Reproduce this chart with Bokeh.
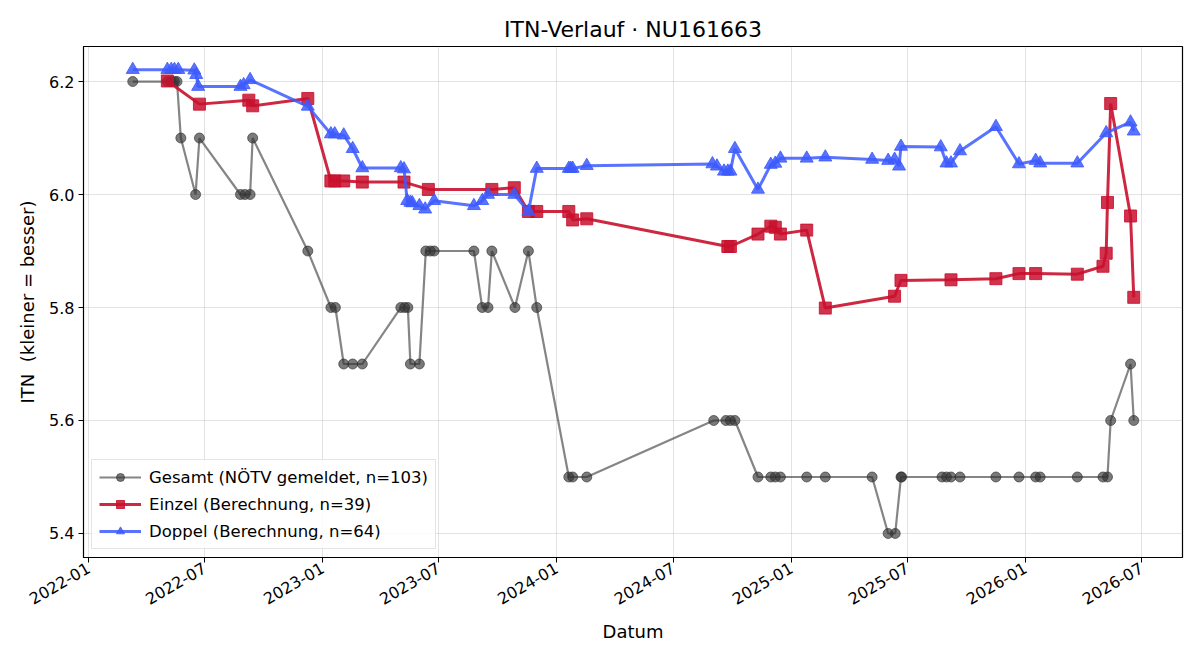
import math
import pandas as pd
from bokeh.plotting import figure
from bokeh.models import (ColumnDataSource, Range1d, FixedTicker, DatetimeTickFormatter,
                          Legend, PrintfTickFormatter)
from bokeh.embed import file_html
from bokeh.resources import INLINE

# ---------------- data ----------------
gesamt_dates = [
    "2022-03-11", "2022-05-04", "2022-05-10", "2022-05-15", "2022-05-19", "2022-05-25",
    "2022-06-17", "2022-06-23", "2022-08-26", "2022-09-02", "2022-09-10", "2022-09-14",
    "2022-12-09", "2023-01-14", "2023-01-21", "2023-02-03", "2023-02-17", "2023-03-04",
    "2023-05-03", "2023-05-09", "2023-05-14", "2023-05-18", "2023-06-01", "2023-06-11",
    "2023-06-18", "2023-06-24", "2023-08-25", "2023-09-07", "2023-09-16", "2023-09-22",
    "2023-10-28", "2023-11-18", "2023-12-01", "2024-01-20", "2024-01-26", "2024-02-17",
    "2024-09-02", "2024-09-21", "2024-09-28", "2024-10-05", "2024-11-10", "2024-11-30",
    "2024-12-07", "2024-12-15", "2025-01-25", "2025-02-23", "2025-05-07", "2025-06-01",
    "2025-06-12", "2025-06-21", "2025-06-22", "2025-08-24", "2025-08-31", "2025-09-07",
    "2025-09-21", "2025-11-16", "2025-12-22", "2026-01-17", "2026-01-24", "2026-03-23",
    "2026-05-02", "2026-05-09", "2026-05-14", "2026-06-14", "2026-06-19",
]
gesamt_itn = [
    6.2, 6.2, 6.2, 6.2, 6.2, 6.1,
    6.0, 6.1, 6.0, 6.0, 6.0, 6.1,
    5.9, 5.8, 5.8, 5.7, 5.7, 5.7,
    5.8, 5.8, 5.8, 5.7, 5.7, 5.9,
    5.9, 5.9, 5.9, 5.8, 5.8, 5.9,
    5.8, 5.9, 5.8, 5.5, 5.5, 5.5,
    5.6, 5.6, 5.6, 5.6, 5.5, 5.5,
    5.5, 5.5, 5.5, 5.5, 5.5, 5.4,
    5.4, 5.5, 5.5, 5.5, 5.5, 5.5,
    5.5, 5.5, 5.5, 5.5, 5.5, 5.5,
    5.5, 5.5, 5.6, 5.7, 5.6,
]

einzel_dates = [
    "2022-05-04", "2022-06-23", "2022-09-08", "2022-09-14", "2022-12-09", "2023-01-14",
    "2023-01-20", "2023-02-03", "2023-03-04", "2023-05-08", "2023-06-15", "2023-09-22",
    "2023-10-27", "2023-11-18", "2023-12-01", "2024-01-20", "2024-01-26", "2024-02-17",
    "2024-09-24", "2024-09-28", "2024-11-10", "2024-11-30", "2024-12-07", "2024-12-15",
    "2025-01-25", "2025-02-23", "2025-06-11", "2025-06-21", "2025-09-07", "2025-11-16",
    "2025-12-22", "2026-01-17", "2026-03-23", "2026-05-02", "2026-05-07", "2026-05-09",
    "2026-05-14", "2026-06-14", "2026-06-19",
]
einzel_itn = [
    6.201, 6.160, 6.167, 6.157, 6.170, 6.024,
    6.024, 6.024, 6.022, 6.022, 6.009, 6.009,
    6.012, 5.970, 5.970, 5.970, 5.955, 5.957,
    5.908, 5.908, 5.930, 5.944, 5.942, 5.930,
    5.937, 5.799, 5.820, 5.848, 5.849, 5.851,
    5.860, 5.860, 5.859, 5.873, 5.896, 5.986,
    6.161, 5.962, 5.818,
]

doppel_dates = [
    "2022-03-11", "2022-05-04", "2022-05-10", "2022-05-15", "2022-05-21", "2022-06-15",
    "2022-06-18", "2022-06-21", "2022-08-26", "2022-08-31", "2022-09-10", "2022-12-09",
    "2023-01-14", "2023-01-20", "2023-02-03", "2023-02-17", "2023-03-04", "2023-05-03",
    "2023-05-08", "2023-05-13", "2023-05-18", "2023-05-21", "2023-06-01", "2023-06-10",
    "2023-06-24", "2023-08-25", "2023-09-07", "2023-09-16", "2023-10-27", "2023-11-18",
    "2023-12-01", "2024-01-20", "2024-01-23", "2024-01-26", "2024-02-17", "2024-08-31",
    "2024-09-07", "2024-09-18", "2024-09-24", "2024-09-28", "2024-10-05", "2024-11-10",
    "2024-11-30", "2024-12-07", "2024-12-15", "2025-01-25", "2025-02-23", "2025-05-07",
    "2025-06-01", "2025-06-11", "2025-06-18", "2025-06-21", "2025-08-22", "2025-08-31",
    "2025-09-07", "2025-09-21", "2025-11-16", "2025-12-22", "2026-01-17", "2026-01-24",
    "2026-03-23", "2026-05-07", "2026-06-14", "2026-06-19",
]
doppel_itn = [
    6.221, 6.221, 6.221, 6.221, 6.221, 6.220,
    6.212, 6.191, 6.191, 6.194, 6.203, 6.156,
    6.107, 6.107, 6.105, 6.081, 6.047, 6.047,
    6.045, 5.989, 5.986, 5.985, 5.980, 5.974,
    5.989, 5.980, 5.989, 6.000, 6.000, 5.970,
    6.046, 6.046, 6.046, 6.046, 6.051, 6.054,
    6.050, 6.041, 6.041, 6.041, 6.081, 6.009,
    6.053, 6.055, 6.064, 6.064, 6.066, 6.062,
    6.060, 6.062, 6.050, 6.085, 6.084, 6.0555,
    6.0555, 6.077, 6.120, 6.054, 6.060, 6.0555,
    6.0555, 6.109, 6.128, 6.112,
]

x_tick_labels = ["2022-01", "2022-07", "2023-01", "2023-07", "2024-01",
                 "2024-07", "2025-01", "2025-07", "2026-01", "2026-07"]
y_ticks = [5.4, 5.6, 5.8, 6.0, 6.2]

FONT = "DejaVu Sans"

def to_dt(lst):
    return pd.to_datetime(lst)

src_g = ColumnDataSource(dict(x=to_dt(gesamt_dates), y=gesamt_itn))
src_e = ColumnDataSource(dict(x=to_dt(einzel_dates), y=einzel_itn))
src_d = ColumnDataSource(dict(x=to_dt(doppel_dates), y=doppel_itn))

p = figure(width=1200, height=660, x_axis_type="datetime",
           output_backend="svg", toolbar_location=None,
           x_range=Range1d(pd.Timestamp("2021-12-24 05:00"), pd.Timestamp("2026-09-03")),
           y_range=Range1d(5.3575, 6.262),
           min_border_left=83, min_border_right=18, min_border_top=46, min_border_bottom=103)

p.title.text = "ITN-Verlauf · NU161663"
p.title.align = "center"
p.title.text_font = FONT
p.title.text_font_size = "22px"
p.title.text_font_style = "normal"
p.title.text_color = "black"

p.outline_line_color = "black"
p.outline_line_width = 1.2
p.background_fill_color = "white"
p.border_fill_color = "white"

# gridlines
for g in (p.xgrid, p.ygrid):
    g.grid_line_color = "#b0b0b0"
    g.grid_line_alpha = 0.35
    g.grid_line_width = 1

# x axis
xt = [pd.Timestamp(s + "-01").value / 1e6 for s in x_tick_labels]
p.xaxis.ticker = FixedTicker(ticks=xt)
p.xaxis.formatter = DatetimeTickFormatter(days="%Y-%m", months="%Y-%m", years="%Y-%m")
p.xaxis.major_label_orientation = math.pi / 6
p.xaxis.axis_label = "Datum"

p.yaxis.ticker = FixedTicker(ticks=y_ticks)
p.yaxis.formatter = PrintfTickFormatter(format="%.1f")
p.yaxis.axis_label = "ITN\u00a0\u00a0(kleiner = besser)"

for ax in (p.xaxis, p.yaxis):
    ax.major_label_text_font = FONT
    ax.major_label_text_font_size = "16px"
    ax.major_label_text_color = "black"
    ax.axis_label_text_font = FONT
    ax.axis_label_text_font_size = "18px"
    ax.axis_label_text_font_style = "normal"
    ax.axis_label_text_color = "black"
    ax.major_tick_in = 0
    ax.major_tick_out = 5
    ax.minor_tick_in = 0
    ax.minor_tick_out = 0
    ax.axis_line_color = "black"
    ax.major_tick_line_color = "black"
    ax.axis_label_standoff = 8
    ax.major_label_standoff = 4

# Gesamt
gl = p.line("x", "y", source=src_g, line_color="#333333", line_alpha=0.6, line_width=2.2)
gs = p.scatter("x", "y", source=src_g, marker="circle", size=10,
               fill_color="#333333", fill_alpha=0.65, line_color="#333333", line_alpha=0.65)

# Einzel
el = p.line("x", "y", source=src_e, line_color="#c8102e", line_alpha=0.9, line_width=3)
es = p.scatter("x", "y", source=src_e, marker="square", size=12,
               fill_color="#c8102e", fill_alpha=0.85, line_color="#c8102e", line_alpha=0.85)

# Doppel
dl = p.line("x", "y", source=src_d, line_color="#3d5afe", line_alpha=0.85, line_width=3)
ds = p.scatter("x", "y", source=src_d, marker="triangle", size=13,
               fill_color="#3d5afe", fill_alpha=0.85, line_color="#3d5afe", line_alpha=0.85)

legend = Legend(items=[
    ("Gesamt (NÖTV gemeldet, n=103)", [gl, gs]),
    ("Einzel (Berechnung, n=39)", [el, es]),
    ("Doppel (Berechnung, n=64)", [dl, ds]),
], location="bottom_left")
legend.label_text_font = FONT
legend.label_text_font_size = "16.5px"
legend.label_text_color = "black"
legend.border_line_color = "#cccccc"
legend.border_line_width = 1
legend.background_fill_alpha = 0.85
legend.glyph_width = 42
legend.glyph_height = 20
legend.label_height = 20
legend.spacing = 7
legend.padding = 7
legend.margin = 8
legend.label_standoff = 8
p.add_layout(legend)

open("out.html", "w").write(file_html(p, INLINE))
